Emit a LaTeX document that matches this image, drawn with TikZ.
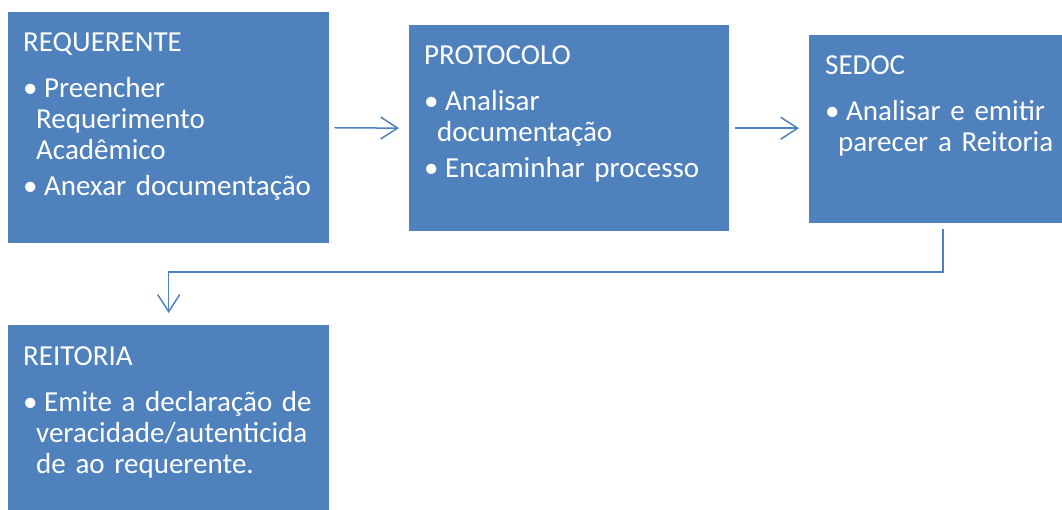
\documentclass[tikz,border=0pt]{standalone}
\usepackage{fontspec}
\setmainfont{Carlito}
\usetikzlibrary{arrows.meta}

\definecolor{boxblue}{RGB}{79,129,189}
\newcommand{\itm}[1]{\par\vspace{5pt}\noindent\makebox[21pt][l]{\textbullet}#1}
\newcommand{\cont}{\newline\hspace*{13pt}}

\tikzset{
  stage/.style={fill=boxblue, draw=none, inner sep=0pt, anchor=north west},
  stagetext/.style={text=white, inner sep=0pt, anchor=north west, text width=330pt,
    align=left, font=\fontsize{29}{31}\selectfont},
  conn/.style={draw=boxblue, line width=1.5pt, -{Straight Barb[length=17pt,width=22pt]}}
}

\begin{document}
\begin{tikzpicture}[x=1pt, y=-1pt]
\useasboundingbox (0,0) rectangle (1062,509);

% the four stages
\node[stage, minimum width=321pt, minimum height=231pt] (req) at (8,12) {};
\node[stage, minimum width=320pt, minimum height=206pt] (prot) at (409,25) {};
\node[stage, minimum width=253pt, minimum height=188pt] (sedoc) at (809,35) {};
\node[stage, minimum width=321pt, minimum height=185pt] (reit) at (8,325) {};

\node[stagetext] (reqtxt) at ([xshift=15pt,yshift=-20pt]req.north west)
  {REQUERENTE\par\vspace{10pt}
   \itm{Preencher\cont Requerimento\cont Acadêmico}
   \itm{Anexar documentação}};
\node[stagetext] (prottxt) at ([xshift=15pt,yshift=-20pt]prot.north west)
  {PROTOCOLO\par\vspace{10pt}
   \itm{Analisar\cont documentação}
   \itm{Encaminhar processo}};
\node[stagetext] (sedoctxt) at ([xshift=16pt,yshift=-20pt]sedoc.north west)
  {SEDOC\par\vspace{10pt}
   \itm{Analisar e emitir\cont parecer a Reitoria}};
\node[stagetext] (reittxt) at ([xshift=15pt,yshift=-21pt]reit.north west)
  {REITORIA\par\vspace{10pt}
   \itm{Emite a declaração de\cont veracidade/autenticida\cont de ao requerente.}};

% connectors
\coordinate (bend) at (943,272);
\draw[conn, shorten <=5pt, shorten >=10pt] (req.east) -- (prot.west);
\draw[conn, shorten <=6pt, shorten >=10pt] (prot.east) -- (prot.east -| sedoc.west);
\draw[conn, shorten <=6pt, shorten >=12pt] (sedoc.south -| bend) -- (bend) -| (reit.north);
\end{tikzpicture}
\end{document}
